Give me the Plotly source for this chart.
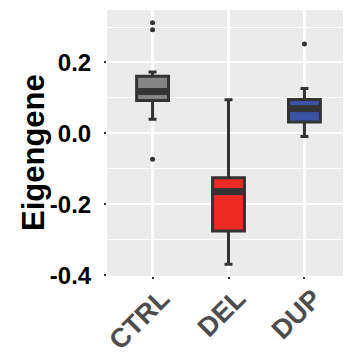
import plotly.graph_objects as go

categories = ["CTRL", "DEL", "DUP"]
q1 = [0.093, -0.275, 0.032]
median = [0.118, -0.164, 0.070]
q3 = [0.161, -0.125, 0.096]
lowerfence = [0.040, -0.369, -0.009]
upperfence = [0.173, 0.095, 0.127]
outlier_group = ["CTRL", "CTRL", "CTRL", "DUP"]
outlier_values = [0.312, 0.292, -0.073, 0.252]
fill_colors = ["#858585", "#EE2A27", "#3A53A4"]

box_width = 0.42
outline = "#333333"
pos = {c: i for i, c in enumerate(categories)}

fig = go.Figure()
for i, c in enumerate(categories):
    fig.add_trace(go.Box(
        x=[i], q1=[q1[i]], median=[median[i]], q3=[q3[i]],
        lowerfence=[lowerfence[i]], upperfence=[upperfence[i]],
        width=box_width, whiskerwidth=0.25,
        fillcolor=fill_colors[i], line=dict(color=outline, width=3),
        boxpoints=False, hoverinfo="skip", showlegend=False,
    ))
    fig.add_trace(go.Scatter(
        x=[i - box_width / 2 + 0.02, i + box_width / 2 - 0.02],
        y=[median[i], median[i]], mode="lines",
        line=dict(color=outline, width=7), hoverinfo="skip", showlegend=False,
    ))

fig.add_trace(go.Scatter(
    x=[pos[g] for g in outlier_group], y=outlier_values, mode="markers",
    marker=dict(color=outline, size=5), hoverinfo="skip", showlegend=False,
))

# page body has an 8px margin: figure shrunk/offset to keep the panel in place
fig.update_layout(
    width=343, height=352,
    margin=dict(l=99, r=1, t=2, b=84),
    paper_bgcolor="white", plot_bgcolor="#EBEBEB",
    font=dict(family="Liberation Sans, Arial, sans-serif"),
    annotations=[dict(
        text="Eigengene", textangle=-90, xref="paper", yref="paper",
        x=0, y=0.5, xanchor="center", yanchor="middle", showarrow=False,
        xshift=-74, yshift=-10,
        font=dict(size=31, color="black", weight="bold"),
    )],
)
fig.update_xaxes(
    range=[-0.6, 2.6], tickvals=list(range(len(categories))), ticktext=categories,
    tickangle=-45, tickfont=dict(size=27, color="#4D4D4D", weight="bold"),
    showgrid=True, gridcolor="white", gridwidth=2.5, zeroline=False,
    ticks="outside", ticklen=2, tickwidth=2, tickcolor=outline,
    ticklabelstandoff=-7, ticklabelshift=9,
    automargin=False,
)
fig.update_yaxes(
    range=[-0.402, 0.348], tickvals=[-0.4, -0.2, 0.0, 0.2],
    ticktext=["-0.4", "-0.2", "0.0", "0.2"],
    tickfont=dict(size=24, color="black", weight="bold"),
    showgrid=True, gridcolor="white", gridwidth=2, zeroline=False,
    minor=dict(tickvals=[-0.3, -0.1, 0.1, 0.3], showgrid=True, gridcolor="white", gridwidth=1, ticks=""),
    ticks="outside", ticklen=2, tickwidth=2, tickcolor=outline,
    ticklabelstandoff=8,
    automargin=False,
)

fig.write_html("out.html")
